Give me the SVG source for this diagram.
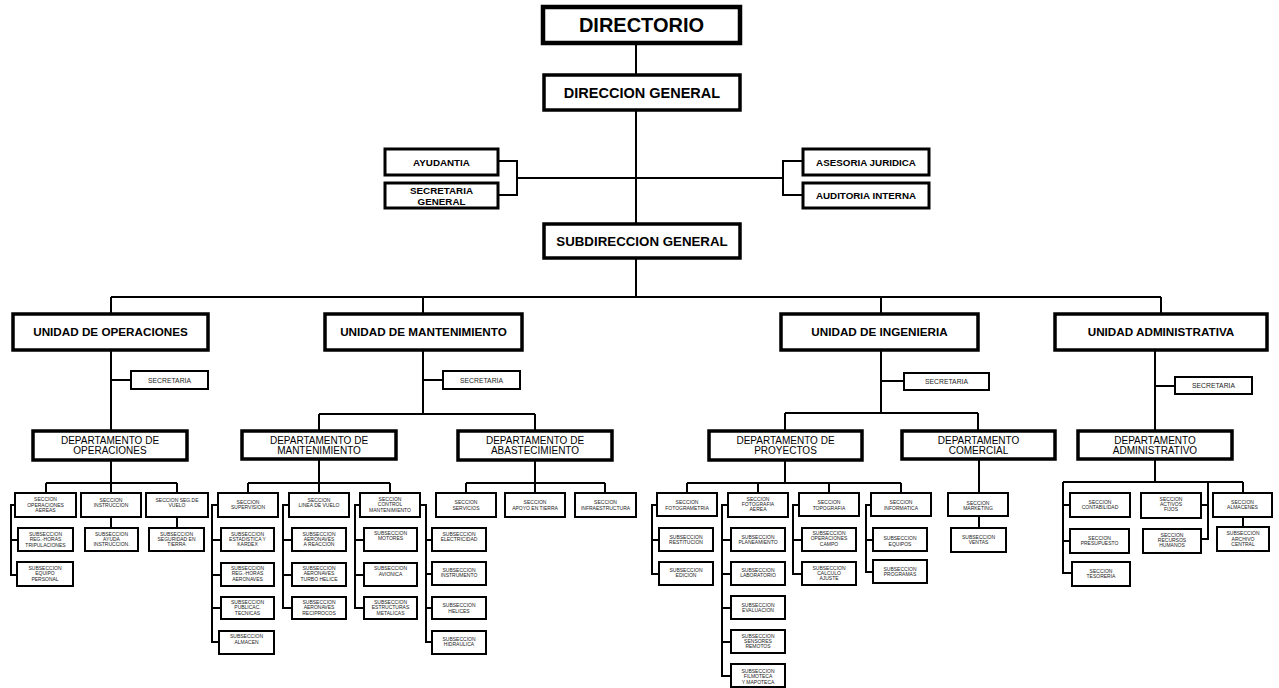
<svg xmlns="http://www.w3.org/2000/svg" width="1279" height="688" viewBox="0 0 1279 688">
<style>
.n rect{fill:#fff;stroke:#000}
.k{stroke-width:4.5}
.u{stroke-width:3.5}
.m{stroke-width:3}
.s{stroke-width:2}
text{font-family:"Liberation Sans",Arial,Helvetica,sans-serif;fill:#000;text-anchor:middle}
.f20{font-size:20px;font-weight:bold}
.f14{font-size:14.5px;font-weight:bold}
.f13{font-size:13.3px;font-weight:bold}
.f12{font-size:11.7px;font-weight:bold}
.f10b{font-size:9.8px;font-weight:bold}
.f10{font-size:10px}
.f7{font-size:6.8px;fill:#222}
.t5{font-size:10px;fill:#222}
#conn path{fill:none;stroke:#000;stroke-width:2}
</style>
<rect width="1279" height="688" fill="#fff"/>
<g id="conn">
<path d="M636 43V75M636 110V224M517 178H783M498 161H517V195H498M803 161H783V195H803M636 258V297M111 297H1161M111 297V314M423 297V314M881 297V314M1161 297V314"/>
<path d="M111 350V431M111 380H131M423 350V414M423 380H443M319 414H535M319 414V431M535 414V431M881 350V413M881 381H904M785 413H978M785 413V431M978 413V431M1155 350V431M1155 386H1175"/>
<path d="M111 460V483M46 483H177M46 483V493M111 483V493M177 483V493M15 505H11V575H17M11 540H18M111 517V528M177 517V528"/>
<path d="M319 459V483M248 483H390M248 483V493M319 483V493M390 483V493M218 505H212V642H219M212 540H221M212 575H221M212 608H221M289 505H283V608H292M283 540H292M283 575H292M360 505H355V608H364M355 540H364M355 575H364M420 505H426V642H432M426 540H432M426 574H432M426 608H432"/>
<path d="M535 460V483M466 483H605M466 483V493M535 483V493M605 483V493"/>
<path d="M785 460V483M687 483H901M687 483V493M758 483V493M829 483V493M901 483V493M657 505H652V574H659M652 540H659M728 505H722V676H731M722 540H731M722 574H731M722 608H731M722 642H731M799 505H793V574H802M793 540H802M871 505H866V572H873M866 540H873"/>
<path d="M979 459V493M979 516V528"/>
<path d="M1155 459V482M1063 482H1243M1063 482V573H1072M1063 505H1070M1063 541H1070M1208 482V539H1201M1208 505H1201M1243 482V493M1243 517V527"/>
</g>
<g id="directorio" class="n"><rect class="k" x="543" y="7" width="197" height="36"/><text class="f20" x="641.5" y="31.5">DIRECTORIO</text></g>
<g id="direccion-general" class="n"><rect class="u" x="544" y="75" width="196" height="35"/><text class="f14" x="642" y="97.5">DIRECCION GENERAL</text></g>
<g id="ayudantia" class="n"><rect class="m" x="385" y="149" width="113" height="26"/><text class="f10b" x="441.5" y="165.5">AYUDANTIA</text></g>
<g id="secretaria-general" class="n"><rect class="m" x="385" y="183" width="113" height="25"/><text class="f10b" x="441.5" y="194"><tspan x="441.5">SECRETARIA</tspan><tspan x="441.5" dy="10.5">GENERAL</tspan></text></g>
<g id="asesoria-juridica" class="n"><rect class="m" x="803" y="149" width="126" height="26"/><text class="f10b" x="866" y="165.5">ASESORIA JURIDICA</text></g>
<g id="auditoria-interna" class="n"><rect class="m" x="803" y="183" width="126" height="25"/><text class="f10b" x="866" y="199">AUDITORIA INTERNA</text></g>
<g id="subdireccion-general" class="n"><rect class="u" x="544" y="224" width="196" height="34"/><text class="f13" x="642" y="245.5">SUBDIRECCION GENERAL</text></g>
<g id="u-operaciones" class="n"><rect class="u" x="13" y="314" width="195" height="36"/><text class="f12" x="110.5" y="336.2">UNIDAD DE OPERACIONES</text></g>
<g id="u-mantenimiento" class="n"><rect class="u" x="325" y="314" width="197" height="36"/><text class="f12" x="423.5" y="336.2">UNIDAD DE MANTENIMIENTO</text></g>
<g id="u-ingenieria" class="n"><rect class="u" x="781" y="314" width="197" height="36"/><text class="f12" x="879.5" y="336.2">UNIDAD DE INGENIERIA</text></g>
<g id="u-administrativa" class="n"><rect class="u" x="1055" y="314" width="212" height="36"/><text class="f12" x="1161" y="336.2">UNIDAD ADMINISTRATIVA</text></g>
<g id="sec-u-ops" class="n"><rect class="s" x="131" y="371" width="77" height="18"/><text class="f7" x="169.5" y="382.5">SECRETARIA</text></g>
<g id="sec-u-mant" class="n"><rect class="s" x="443" y="371" width="77" height="18"/><text class="f7" x="481.5" y="382.5">SECRETARIA</text></g>
<g id="sec-u-ing" class="n"><rect class="s" x="904" y="373" width="85" height="17"/><text class="f7" x="946.5" y="384">SECRETARIA</text></g>
<g id="sec-u-adm" class="n"><rect class="s" x="1175" y="377" width="77" height="17"/><text class="f7" x="1213.5" y="388">SECRETARIA</text></g>
<g id="d-operaciones" class="n"><rect class="u" x="33" y="431" width="154" height="29"/><text class="f10" x="110" y="443.6"><tspan x="110">DEPARTAMENTO DE</tspan><tspan x="110" dy="10">OPERACIONES</tspan></text></g>
<g id="d-mantenimiento" class="n"><rect class="u" x="242" y="431" width="154" height="28"/><text class="f10" x="319" y="443.6"><tspan x="319">DEPARTAMENTO DE</tspan><tspan x="319" dy="10">MANTENIMIENTO</tspan></text></g>
<g id="d-abastecimiento" class="n"><rect class="u" x="458" y="431" width="154" height="29"/><text class="f10" x="535" y="443.6"><tspan x="535">DEPARTAMENTO DE</tspan><tspan x="535" dy="10">ABASTECIMIENTO</tspan></text></g>
<g id="d-proyectos" class="n"><rect class="u" x="709" y="431" width="153" height="29"/><text class="f10" x="785.5" y="443.6"><tspan x="785.5">DEPARTAMENTO DE</tspan><tspan x="785.5" dy="10">PROYECTOS</tspan></text></g>
<g id="d-comercial" class="n"><rect class="u" x="902" y="431" width="153" height="28"/><text class="f10" x="978.5" y="443.6"><tspan x="978.5">DEPARTAMENTO</tspan><tspan x="978.5" dy="10">COMERCIAL</tspan></text></g>
<g id="d-administrativo" class="n"><rect class="u" x="1078" y="431" width="154" height="28"/><text class="f10" x="1155" y="443.6"><tspan x="1155">DEPARTAMENTO</tspan><tspan x="1155" dy="10">ADMINISTRATIVO</tspan></text></g>
<g id="sec-op-aereas" class="n"><rect class="s" x="15" y="493" width="61" height="24"/><text class="t5" transform="translate(45.5 501.4) scale(.5)"><tspan x="0">SECCION</tspan><tspan x="0" dy="10.4">OPERACIONES</tspan><tspan x="0" dy="10.4">AEREAS</tspan></text></g>
<g id="sec-instruccion" class="n"><rect class="s" x="81" y="493" width="60" height="24"/><text class="t5" transform="translate(111 501.8) scale(.5)"><tspan x="0">SECCION</tspan><tspan x="0" dy="10.4">INSTRUCCION</tspan></text></g>
<g id="sec-seg-vuelo" class="n"><rect class="s" x="146" y="493" width="62" height="24"/><text class="t5" transform="translate(177 501.8) scale(.5)"><tspan x="0">SECCION SEG.DE</tspan><tspan x="0" dy="10.4">VUELO</tspan></text></g>
<g id="sub-reg-trip" class="n"><rect class="s" x="18" y="528" width="55" height="23"/><text class="t5" transform="translate(45.5 535.8) scale(.5)"><tspan x="0">SUBSECCION</tspan><tspan x="0" dy="10.8">REG.-HORAS</tspan><tspan x="0" dy="10.8">TRIPULACIONES</tspan></text></g>
<g id="sub-equipo-personal" class="n"><rect class="s" x="17" y="562" width="56" height="24"/><text class="t5" transform="translate(45 569.8) scale(.5)"><tspan x="0">SUBSECCION</tspan><tspan x="0" dy="10.8">EQUIPO</tspan><tspan x="0" dy="10.8">PERSONAL</tspan></text></g>
<g id="sub-ayuda" class="n"><rect class="s" x="85" y="528" width="53" height="23"/><text class="t5" transform="translate(111.5 535.8) scale(.5)"><tspan x="0">SUBSECCION</tspan><tspan x="0" dy="10.6">AYUDA</tspan><tspan x="0" dy="10.6">INSTRUCCION.</tspan></text></g>
<g id="sub-seg-tierra" class="n"><rect class="s" x="149" y="528" width="55" height="23"/><text class="t5" transform="translate(176.5 535.8) scale(.5)"><tspan x="0">SUBSECCION</tspan><tspan x="0" dy="10.6">SEGURIDAD EN</tspan><tspan x="0" dy="10.6">TIERRA</tspan></text></g>
<g id="sec-supervision" class="n"><rect class="s" x="218" y="493" width="60" height="24"/><text class="t5" transform="translate(248 503.8) scale(.5)"><tspan x="0">SECCION</tspan><tspan x="0" dy="10.4">SUPERVISION</tspan></text></g>
<g id="sec-linea" class="n"><rect class="s" x="289" y="493" width="60" height="24"/><text class="t5" transform="translate(319 501.8) scale(.5)"><tspan x="0">SECCION</tspan><tspan x="0" dy="10.4">LINEA DE VUELO</tspan></text></g>
<g id="sec-control" class="n"><rect class="s" x="360" y="493" width="60" height="24"/><text class="t5" transform="translate(390 501.2) scale(.5)"><tspan x="0">SECCION</tspan><tspan x="0" dy="10.4">CONTROL</tspan><tspan x="0" dy="10.4">MANTENIMIENTO</tspan></text></g>
<g id="sub-estadistica" class="n"><rect class="s" x="221" y="528" width="53" height="23"/><text class="t5" transform="translate(247.5 535.8) scale(.5)"><tspan x="0">SUBSECCION</tspan><tspan x="0" dy="10.4">ESTADISTICA Y</tspan><tspan x="0" dy="10.4">KARDEX</tspan></text></g>
<g id="sub-reg-aeronaves" class="n"><rect class="s" x="221" y="563" width="53" height="23"/><text class="t5" transform="translate(247.5 569.8) scale(.5)"><tspan x="0">SUBSECCION</tspan><tspan x="0" dy="11">REG.-HORAS</tspan><tspan x="0" dy="11">AERONAVES</tspan></text></g>
<g id="sub-publicac" class="n"><rect class="s" x="221" y="597" width="53" height="22"/><text class="t5" transform="translate(247.5 604.2) scale(.5)"><tspan x="0">SUBSECCION</tspan><tspan x="0" dy="10.4">PUBLICAC.</tspan><tspan x="0" dy="10.4">TECNICAS</tspan></text></g>
<g id="sub-almacen" class="n"><rect class="s" x="219" y="631" width="55" height="23"/><text class="t5" transform="translate(246.5 637.8) scale(.5)"><tspan x="0">SUBSECCION</tspan><tspan x="0" dy="12">ALMACEN</tspan></text></g>
<g id="sub-reaccion" class="n"><rect class="s" x="292" y="528" width="54" height="23"/><text class="t5" transform="translate(319 535.8) scale(.5)"><tspan x="0">SUBSECCION</tspan><tspan x="0" dy="10.4">AERONAVES</tspan><tspan x="0" dy="10.4">A REACCION</tspan></text></g>
<g id="sub-turbo" class="n"><rect class="s" x="292" y="563" width="54" height="23"/><text class="t5" transform="translate(319 569.8) scale(.5)"><tspan x="0">SUBSECCION</tspan><tspan x="0" dy="11">AERONAVES</tspan><tspan x="0" dy="11">TURBO HELICE</tspan></text></g>
<g id="sub-reciprocos" class="n"><rect class="s" x="292" y="597" width="54" height="22"/><text class="t5" transform="translate(319 604.2) scale(.5)"><tspan x="0">SUBSECCION</tspan><tspan x="0" dy="10.4">AERONAVES</tspan><tspan x="0" dy="10.4">RECIPROCOS</tspan></text></g>
<g id="sub-motores" class="n"><rect class="s" x="364" y="528" width="53" height="23"/><text class="t5" transform="translate(390.5 534.5) scale(.5)"><tspan x="0">SUBSECCION</tspan><tspan x="0" dy="10.4">MOTORES</tspan></text></g>
<g id="sub-avionica" class="n"><rect class="s" x="364" y="563" width="53" height="23"/><text class="t5" transform="translate(390.5 570) scale(.5)"><tspan x="0">SUBSECCION</tspan><tspan x="0" dy="11.4">AVIONICA</tspan></text></g>
<g id="sub-estructuras" class="n"><rect class="s" x="364" y="597" width="53" height="22"/><text class="t5" transform="translate(390.5 604.3) scale(.5)"><tspan x="0">SUBSECCION</tspan><tspan x="0" dy="10.4">ESTRUCTURAS</tspan><tspan x="0" dy="10.4">METALICAS</tspan></text></g>
<g id="sub-electricidad" class="n"><rect class="s" x="432" y="528" width="54" height="23"/><text class="t5" transform="translate(459 535.8) scale(.5)"><tspan x="0">SUBSECCION</tspan><tspan x="0" dy="10.6">ELECTRICIDAD</tspan></text></g>
<g id="sub-instrumento" class="n"><rect class="s" x="432" y="562" width="54" height="23"/><text class="t5" transform="translate(459 571.8) scale(.5)"><tspan x="0">SUBSECCION</tspan><tspan x="0" dy="11.4">INSTRUMENTO</tspan></text></g>
<g id="sub-helices" class="n"><rect class="s" x="432" y="597" width="54" height="22"/><text class="t5" transform="translate(459 607.4) scale(.5)"><tspan x="0">SUBSECCION</tspan><tspan x="0" dy="10.4">HELICES</tspan></text></g>
<g id="sub-hidraulica" class="n"><rect class="s" x="432" y="631" width="54" height="23"/><text class="t5" transform="translate(459 640.6) scale(.5)"><tspan x="0">SUBSECCION</tspan><tspan x="0" dy="10.4">HIDRAULICA</tspan></text></g>
<g id="sec-servicios" class="n"><rect class="s" x="436" y="493" width="60" height="24"/><text class="t5" transform="translate(466 504.4) scale(.5)"><tspan x="0">SECCION</tspan><tspan x="0" dy="10.4">SERVICIOS</tspan></text></g>
<g id="sec-apoyo" class="n"><rect class="s" x="505" y="493" width="60" height="24"/><text class="t5" transform="translate(535 504.4) scale(.5)"><tspan x="0">SECCION</tspan><tspan x="0" dy="10.4">APOYO EN TIERRA</tspan></text></g>
<g id="sec-infraestructura" class="n"><rect class="s" x="575" y="493" width="61" height="24"/><text class="t5" transform="translate(605.5 504.4) scale(.5)"><tspan x="0">SECCION</tspan><tspan x="0" dy="10.4">INFRAESTRUCTURA</tspan></text></g>
<g id="sec-fotogrametria" class="n"><rect class="s" x="657" y="493" width="60" height="23"/><text class="t5" transform="translate(687 504.4) scale(.5)"><tspan x="0">SECCION</tspan><tspan x="0" dy="10.4">FOTOGRAMETRIA</tspan></text></g>
<g id="sec-fotografia" class="n"><rect class="s" x="728" y="493" width="60" height="24"/><text class="t5" transform="translate(758 501.1) scale(.5)"><tspan x="0">SECCION</tspan><tspan x="0" dy="10.4">FOTOGRAFIA</tspan><tspan x="0" dy="10.4">AEREA</tspan></text></g>
<g id="sec-topografia" class="n"><rect class="s" x="799" y="493" width="60" height="23"/><text class="t5" transform="translate(829 504.4) scale(.5)"><tspan x="0">SECCION</tspan><tspan x="0" dy="10.4">TOPOGRAFIA</tspan></text></g>
<g id="sec-informatica" class="n"><rect class="s" x="871" y="493" width="60" height="23"/><text class="t5" transform="translate(901 504.4) scale(.5)"><tspan x="0">SECCION</tspan><tspan x="0" dy="10.4">INFORMATICA</tspan></text></g>
<g id="sub-restitucion" class="n"><rect class="s" x="659" y="528" width="54" height="23"/><text class="t5" transform="translate(686 538.6) scale(.5)"><tspan x="0">SUBSECCION</tspan><tspan x="0" dy="10.4">RESTITUCION</tspan></text></g>
<g id="sub-edicion" class="n"><rect class="s" x="659" y="562" width="54" height="23"/><text class="t5" transform="translate(686 571.6) scale(.5)"><tspan x="0">SUBSECCION</tspan><tspan x="0" dy="11">EDICION</tspan></text></g>
<g id="sub-planeamiento" class="n"><rect class="s" x="731" y="528" width="54" height="23"/><text class="t5" transform="translate(758 538.6) scale(.5)"><tspan x="0">SUBSECCION</tspan><tspan x="0" dy="10.4">PLANEAMIENTO</tspan></text></g>
<g id="sub-laboratorio" class="n"><rect class="s" x="731" y="562" width="54" height="23"/><text class="t5" transform="translate(758 571.6) scale(.5)"><tspan x="0">SUBSECCION</tspan><tspan x="0" dy="11">LABORATORIO</tspan></text></g>
<g id="sub-evaluacion" class="n"><rect class="s" x="731" y="596" width="54" height="23"/><text class="t5" transform="translate(758 606.6) scale(.5)"><tspan x="0">SUBSECCION</tspan><tspan x="0" dy="10.4">EVALUACION</tspan></text></g>
<g id="sub-sensores" class="n"><rect class="s" x="731" y="630" width="54" height="23"/><text class="t5" transform="translate(758 637.6) scale(.5)"><tspan x="0">SUBSECCION</tspan><tspan x="0" dy="10.4">SENSORES</tspan><tspan x="0" dy="10.4">REMOTOS</tspan></text></g>
<g id="sub-filmoteca" class="n"><rect class="s" x="731" y="664" width="54" height="23"/><text class="t5" transform="translate(758 673.2) scale(.5)"><tspan x="0">SUBSECCION</tspan><tspan x="0" dy="10.4">FILMOTECA</tspan><tspan x="0" dy="10.4">Y MAPOTECA</tspan></text></g>
<g id="sub-op-campo" class="n"><rect class="s" x="802" y="528" width="54" height="23"/><text class="t5" transform="translate(829 535.2) scale(.5)"><tspan x="0">SUBSECCION</tspan><tspan x="0" dy="10.4">OPERACIONES</tspan><tspan x="0" dy="10.4">CAMPO</tspan></text></g>
<g id="sub-calculo" class="n"><rect class="s" x="802" y="562" width="54" height="23"/><text class="t5" transform="translate(829 569.6) scale(.5)"><tspan x="0">SUBSECCION</tspan><tspan x="0" dy="10.4">CALCULO</tspan><tspan x="0" dy="10.4">AJUSTE</tspan></text></g>
<g id="sub-equipos" class="n"><rect class="s" x="873" y="528" width="54" height="23"/><text class="t5" transform="translate(900 540.4) scale(.5)"><tspan x="0">SUBSECCION</tspan><tspan x="0" dy="10.4">EQUIPOS</tspan></text></g>
<g id="sub-programas" class="n"><rect class="s" x="873" y="560" width="54" height="23"/><text class="t5" transform="translate(900 570.6) scale(.5)"><tspan x="0">SUBSECCION</tspan><tspan x="0" dy="10.4">PROGRAMAS</tspan></text></g>
<g id="sec-marketing" class="n"><rect class="s" x="948" y="493" width="60" height="23"/><text class="t5" transform="translate(978 504.6) scale(.5)"><tspan x="0">SECCION</tspan><tspan x="0" dy="10.4">MARKETING</tspan></text></g>
<g id="sub-ventas" class="n"><rect class="s" x="951" y="528" width="55" height="24"/><text class="t5" transform="translate(978.5 538.6) scale(.5)"><tspan x="0">SUBSECCION</tspan><tspan x="0" dy="10.4">VENTAS</tspan></text></g>
<g id="sec-contabilidad" class="n"><rect class="s" x="1070" y="493" width="60" height="24"/><text class="t5" transform="translate(1100 503.6) scale(.5)"><tspan x="0">SECCION</tspan><tspan x="0" dy="10.4">CONTABILIDAD</tspan></text></g>
<g id="sec-presupuesto" class="n"><rect class="s" x="1070" y="529" width="59" height="24"/><text class="t5" transform="translate(1099.5 539.6) scale(.5)"><tspan x="0">SECCION</tspan><tspan x="0" dy="10.4">PRESUPUESTO</tspan></text></g>
<g id="sec-tesoreria" class="n"><rect class="s" x="1072" y="562" width="58" height="24"/><text class="t5" transform="translate(1101 572.6) scale(.5)"><tspan x="0">SECCION</tspan><tspan x="0" dy="11">TESORERIA</tspan></text></g>
<g id="sec-activos" class="n"><rect class="s" x="1141" y="493" width="60" height="25"/><text class="t5" transform="translate(1171 501.1) scale(.5)"><tspan x="0">SECCION</tspan><tspan x="0" dy="10.4">ACTIVOS</tspan><tspan x="0" dy="10.4">FIJOS</tspan></text></g>
<g id="sec-rrhh" class="n"><rect class="s" x="1143" y="529" width="58" height="24"/><text class="t5" transform="translate(1172 536.8) scale(.5)"><tspan x="0">SECCION</tspan><tspan x="0" dy="10.6">RECURSOS</tspan><tspan x="0" dy="10.6">HUMANOS</tspan></text></g>
<g id="sec-almacenes" class="n"><rect class="s" x="1213" y="493" width="59" height="24"/><text class="t5" transform="translate(1242.5 503.6) scale(.5)"><tspan x="0">SECCION</tspan><tspan x="0" dy="10.4">ALMACENES</tspan></text></g>
<g id="sub-archivo" class="n"><rect class="s" x="1217" y="527" width="52" height="24"/><text class="t5" transform="translate(1243 535.4) scale(.5)"><tspan x="0">SUBSECCION</tspan><tspan x="0" dy="10.4">ARCHIVO</tspan><tspan x="0" dy="10.4">CENTRAL</tspan></text></g>
</svg>
